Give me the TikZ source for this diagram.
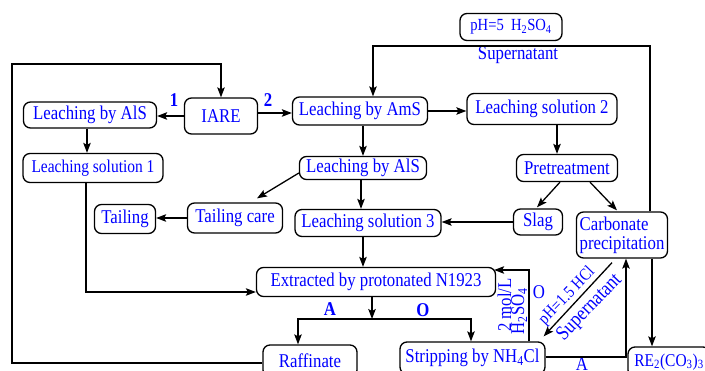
\documentclass[tikz,border=0pt]{standalone}
\usepackage{fontspec}
\setmainfont{Liberation Serif}[FakeStretch=0.86]
\usetikzlibrary{arrows.meta,calc}
\begin{document}
\begin{tikzpicture}[x=1pt,y=-1pt, line width=1.3pt,
  box/.style={draw, rounded corners=7pt, text=blue, inner sep=0pt, font=\fontsize{19.5}{20}\selectfont},
  arr/.style={-{Stealth[length=10pt,width=7.5pt,inset=2pt]}},
  lbl/.style={text=blue, inner sep=0pt, font=\fontsize{19.5}{20}\selectfont},
  blbl/.style={text=blue, inner sep=0pt, font=\fontsize{19.5}{20}\selectfont\bfseries}]
\useasboundingbox (0,0) rectangle (705,371);
% nodes
\node[box, minimum width=102pt, minimum height=27pt, font=\fontsize{17}{18}\selectfont] (ph) at (511,27) {pH=5~~H\textsubscript{2}SO\textsubscript{4}};
\node[box, minimum width=73pt, minimum height=36pt] (iare) at (221,116) {IARE};
\node[box, minimum width=133pt, minimum height=26pt] (als1) at (90,115) {Leaching by AlS};
\node[box, minimum width=140pt, minimum height=29pt, font=\fontsize{18}{19}\selectfont] (sol1) at (93,168) {Leaching solution 1};
\node[box, minimum width=135pt, minimum height=28pt] (ams) at (360,111) {Leaching by AmS};
\node[box, minimum width=150pt, minimum height=31pt] (sol2) at (542,109) {Leaching solution 2};
\node[box, minimum width=101pt, minimum height=27pt] (pre) at (567,168) {Pretreatment};
\node[box, minimum width=127pt, minimum height=23pt] (als2) at (363,168) {Leaching by AlS};
\node[box, minimum width=95pt, minimum height=30pt] (tcare) at (235,218) {Tailing care};
\node[box, minimum width=61pt, minimum height=29pt] (tail) at (125,219) {Tailing};
\node[box, minimum width=146pt, minimum height=27pt] (sol3) at (368,223) {Leaching solution 3};
\node[box, minimum width=49pt, minimum height=26pt] (slag) at (538,222) {Slag};
\node[box, minimum width=91pt, minimum height=46pt, align=left, font=\fontsize{19.5}{19}\selectfont] (carb) at (622,235) {Carbonate\\precipitation};
\node[box, minimum width=239pt, minimum height=29pt] (ext) at (376,282) {Extracted by protonated N1923};
\node[box, minimum width=94pt, minimum height=32pt] (raff) at (310,361) {Raffinate};
\node[box, minimum width=145pt, minimum height=32pt] (strip) at (472.5,358) {Stripping by NH\textsubscript{4}Cl};
\node[box, minimum width=82pt, minimum height=30pt, font=\fontsize{18}{19}\selectfont] (re) at (669,362) {RE\textsubscript{2}(CO\textsubscript{3})\textsubscript{3}};
% labels
\node[blbl] (n1) at (174,100) {1};
\node[blbl] (n2) at (268,100) {2};
\node[blbl] (la) at (330,309) {A};
\node[blbl] (lo) at (423,310) {O};
\node[lbl] (sup1) at (518,55) {Supernatant};
\node[lbl, rotate=90, anchor=base] (mol) at (511,305) {2 mol/L};
\node[lbl, rotate=90, anchor=base] (hso) at (524,311) {H\textsubscript{2}SO\textsubscript{4}};
\node[lbl] (o2) at (539,292) {O};
\node[lbl, rotate=46, anchor=base, font=\fontsize{17}{18}\selectfont] (phcl) at (570,299) {pH=1.5 HCl};
\node[lbl, rotate=46, anchor=base, font=\fontsize{20.5}{21}\selectfont] (sup2) at (593,311) {Supernatant};
\node[lbl] (a2) at (582,364) {A};
% coordinates
\coordinate (l1) at (12,363);
\coordinate (l2) at (12,64);
\coordinate (t1) at (650,46);
\coordinate (t2) at (373,46);
\coordinate (c1) at (86,292);
\coordinate (j) at (372,319);
\coordinate (jl) at (298,319);
\coordinate (jr) at (471,319);
\coordinate (s1) at (529,270);
\coordinate (a1) at (626,357);
% connectors
\draw[arr] (iare.west) -- (iare.west -| als1.east);
\draw[arr] (iare.east |- 0,113) -- (ams.west |- 0,113);
\draw[arr] (als1.south -| 87,0) -- (sol1.north -| 87,0);
\draw[arr] (sol1.south -| c1) -- (c1) -- (c1 -| ext.west);
\draw[arr] (ams.east) -- (ams.east -| sol2.west);
\draw[arr] (ams.south -| 363,0) -- (als2.north -| 363,0);
\draw[arr] (sol2.south -| 557,0) -- (pre.north -| 557,0);
\draw[arr] ($(pre.south)+(-7,0)$) -- ($(slag.north)+(-1,-1)$);
\draw[arr] ($(pre.south)+(23,0)$) -- ($(carb.north)+(-5,-1)$);
\draw[arr] ($(als2.west)+(0,5)$) -- ($(tcare.north)+(22,-4)$);
\draw[arr] (tcare.west) -- (tcare.west -| tail.east);
\draw[arr] (als2.south -| 361,0) -- (sol3.north -| 361,0);
\draw[arr] (slag.west) -- (slag.west -| sol3.east);
\draw[arr] (sol3.south -| 363,0) -- (ext.north -| 363,0);
\draw[arr] (ext.south -| j) -- (j);
\draw[arr] (j) -- (jl) -- (raff.north -| jl);
\draw[arr] (j) -- (jr) -- (strip.north -| jr);
\draw[arr] (raff.west |- l1) -- (l1) -- (l2) -- (l2 -| iare.north) -- (iare.north);
\draw[arr] (carb.north -| t1) -- (t1) -- (t2) -- (t2 |- ams.north);
\draw[arr] (strip.north -| s1) -- (s1) -- ($(s1 -| ext.east)+(-2,0)$);
\draw[arr] ($(carb.south)+(-10,4)$) -- ($(strip.north east)+(-2,-5)$);
\draw[arr] (strip.east |- a1) -- (a1) -- (a1 |- carb.south);
\draw[arr] (carb.south -| 652,0) -- (re.north -| 652,0);
\end{tikzpicture}
\end{document}
